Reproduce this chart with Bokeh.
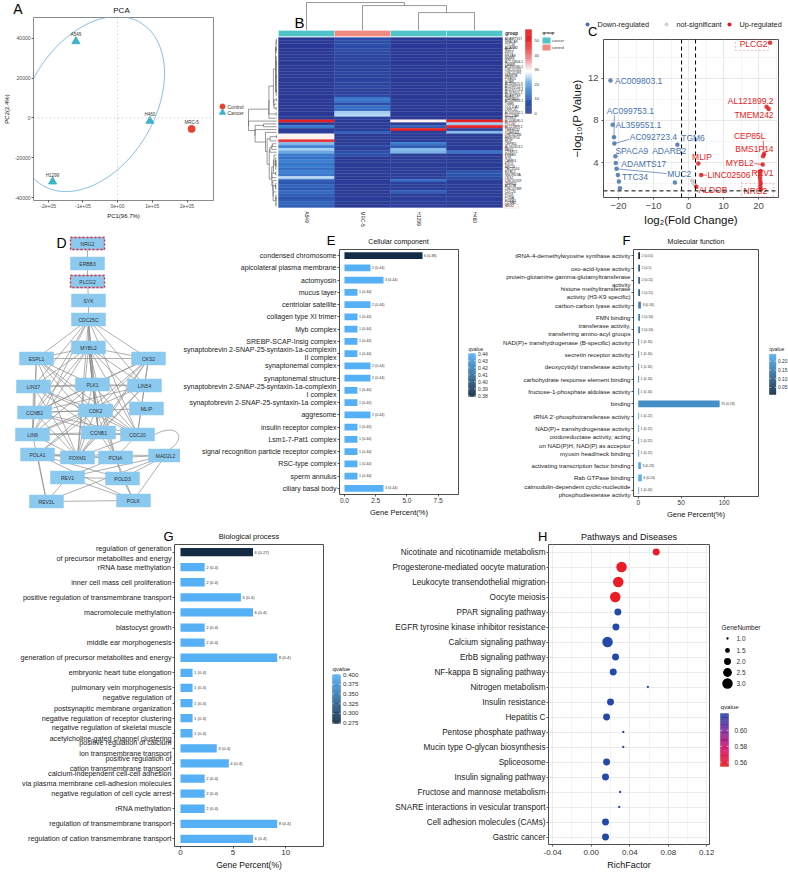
import numpy as np
from bokeh.plotting import figure
from bokeh.models import (Range1d, FactorRange, FixedTicker, Span, ColumnDataSource, NumeralTickFormatter,
                          BoxAnnotation)
from bokeh.layouts import row, column
from bokeh.core.properties import value
from bokeh.embed import file_html
from bokeh.resources import INLINE

FONT = "Liberation Sans"
DARK = "#1A1A1A"

# ============================ DATA ============================
# ---- A: PCA ----
pca_samples = ["A549", "H460", "H1299", "MRC-5"]
pca_groups = ["Cancer", "Cancer", "Cancer", "Control"]
pca_pc1 = [-1.20e5, 0.93e5, -1.87e5, 2.13e5]
pca_pc2 = [38500, -1500, -32000, -5500]
pca_ellipse = dict(cx=-0.75e5, cy=7000, sx=2.1e5, sy=44000, rho=0.35)
pca_xticks = [-200000, -100000, 0, 100000, 200000]
pca_xlabels = ["-2e+05", "-1e+05", "0e+00", "1e+05", "2e+05"]
pca_yticks = [-40000, -20000, 0, 20000, 40000]
pca_ylabels = ["-40000", "-20000", "0", "20000", "40000"]

# ---- B: heatmap ----
heat_cols = ["A549", "MRC-5", "H1299", "H460"]
heat_col_group = ["cancer", "control", "cancer", "cancer"]
heat_genes = ["ADAMTS17", "SPACA9", "TTC34", "ADARB2", "MUC2", "KRT4", "MS4A8", "MMP8", "AC124804.1", "CEMIP",
              "AC092080.1", "LINC01331", "LINC02491", "FAM87B", "PGBD5", "SOBP", "AL109615.3", "AC099753.1",
              "AC092723.4", "AL359551.1", "ADAMTS9", "ZNF385D", "AC009803.1", "TGM6", "COL11A2", "LRRC4C",
              "AC005332.1", "SLC17A8", "NTRK3",
              "AC008090.1", "PLCG2", "AL121899.2", "TMEM242", "TCERG1L", "LINC02506", "BMS1P14", "MLIP",
              "CEP85L", "AL160313.2", "REV1", "CYSRT1", "ERBB3", "SYK", "CAMK4", "EXO1", "SPC24", "TBC1D16",
              "MYBL2", "SNORD3A", "CKS2", "LINC01559", "ZNF821", "ALDOB", "LINC02389", "CDC20", "POLK", "PCNA",
              "FOXM1", "CCNB2", "NRG2"]
heat_A549 = [0.5, 0.8, 0.3, 0.6, 0.4, 0.9, 0.5, 0.3, 0.7, 0.4, 0.6, 0.5, 0.3, 0.8, 0.4, 0.5, 0.6, 0.3, 0.7, 0.5,
             0.4, 0.6, 0.5, 0.3, 0.8, 0.5, 0.4, 0.6, 0.9,
             55, 1.0, 15, 1.5, 2, 30, 30, 46, 22, 16, 24, 20, 15, 13, 16, 14, 15, 13, 16, 14, 25, 10, 8, 11, 9, 12,
             10, 8, 9, 11, 10]
heat_MRC5 = [6, 6, 7, 5, 6, 5, 3, 4, 3, 3, 4, 3, 4, 3, 3, 4, 3, 4, 3, 3, 4, 14, 14, 6, 13, 12, 24, 25, 3,
             1, 1, 1, 1, 10, 1, 1, 1, 1, 5, 2, 7, 7, 1, 1, 1, 1, 1, 1, 1, 1, 1, 1, 1, 1, 1, 1, 1, 1, 1, 1]
heat_H1299 = [0.4, 0.6, 0.5, 0.3, 0.5, 0.7, 0.4, 0.5, 0.3, 0.6, 0.5, 0.4, 0.6, 0.3, 0.5, 0.4, 0.7, 0.5, 0.3, 0.6,
              0.4, 0.5, 0.6, 0.4, 0.5, 0.3, 0.6, 0.5, 0.4,
              30, 2, 10, 55, 2, 1, 1, 1, 15, 8, 22, 21, 2, 1, 2, 1, 1, 2, 1, 2, 2, 12, 2, 2, 2, 10, 2, 2, 2, 2, 2]
heat_H460 = [0.5, 0.4, 0.6, 0.5, 0.3, 0.6, 0.5, 0.4, 0.5, 0.6, 0.3, 0.5, 0.4, 0.6, 0.5, 0.3, 0.5, 0.6, 0.4, 0.5,
             0.3, 0.6, 0.4, 0.5, 0.6, 0.4, 0.5, 0.3, 0.5,
             55, 24, 52, 3, 22, 1, 1, 1, 1, 1, 1, 14, 1, 1, 1, 1, 1, 1, 8, 8, 6, 2, 1, 2, 1, 2, 1, 2, 1, 2, 1]
heat_col_merges = [(2, 3, 0.64), (1, 4, 0.89), (0, 5, 1.0)]   # (left, right, relative height); 4,5 = new clusters
heat_cbar_ticks = [0, 10, 20, 30, 40, 50]
heat_max = 57.5

# ---- C: volcano ----
volc_gene = ["AC009803.1", "AL359551.1", "AC099753.1", "AC092723.4", "SPACA9", "ADAMTS17", "MUC2", "TTC34", "", "",
             "TGM6", "ADARB2",
             "PLCG2", "AL121899.2", "TMEM242", "CEP85L", "BMS1P14", "MYBL2", "REV1", "", "", "", "", "", "NRG2",
             "MLIP", "LINC02506", "ALDOB",
             "", "", "", ""]
volc_fc = [-22.3, -21.7, -21.3, -21.2, -20.9, -20.8, -20.6, -20.2, -19.9, -19.6, -3.2, -3.9,
           23.3, 22.3, 22.9, 21.6, 21.3, 21.2, 20.6, 20.5, 20.4, 20.5, 20.6, 20.5, 20.7,
           2.8, 3.6, 2.2,
           1.2, 1.5, 1.0, 1.7]
volc_logp = [11.8, 7.6, 6.4, 5.8, 4.6, 3.95, 3.4, 2.8, 2.2, 1.55, 5.7, 2.1,
             15.4, 9.3, 9.1, 4.8, 4.6, 3.8, 3.2, 2.9, 2.6, 2.3, 2.0, 1.75, 1.45,
             3.9, 2.8, 1.7,
             2.2, 2.05, 2.3, 1.9]
volc_legend = ["Down-regulated", "not-significant", "Up-regulated"]

# ---- D: network ----
net_nodes = ["NRG2", "ERBB3", "PLCG2", "SYK", "CDC25C", "MYBL2", "ESPL1", "CKS2", "LIN37", "PLK1", "LIN54",
             "CCNB2", "CDK2", "MLIP", "LIN9", "CCNB1", "CDC20", "POLA1", "FOXM1", "PCNA", "MAD2L2", "REV1",
             "POLD3", "REV3L", "POLK"]
net_x = [87, 87, 87, 88, 88, 88, 36, 148, 33, 92, 144, 34, 95, 146, 32, 98, 137, 37, 77, 115, 165, 67, 122, 46, 133]
net_y = [243, 263, 281, 300, 319, 347, 358, 358, 386, 384, 385, 412, 410, 408, 434, 432, 434, 454, 457, 457, 455,
         477, 478, 501, 500]
net_highlight = ["NRG2", "PLCG2"]
net_edges = [("NRG2", "ERBB3"), ("ERBB3", "PLCG2"), ("PLCG2", "SYK"), ("SYK", "CDC25C"),
             ("CDC25C", "ESPL1"), ("CDC25C", "MYBL2"), ("CDC25C", "CKS2"), ("CDC25C", "PLK1"), ("CDC25C", "CDK2"),
             ("CDC25C", "CCNB1"), ("CDC25C", "CCNB2"), ("CDC25C", "LIN9"), ("CDC25C", "FOXM1"), ("CDC25C", "CDC20"),
             ("CDC25C", "LIN37"), ("CDC25C", "LIN54"),
             ("ESPL1", "MYBL2"), ("ESPL1", "PLK1"), ("ESPL1", "CDK2"), ("ESPL1", "CCNB1"), ("ESPL1", "CCNB2"),
             ("ESPL1", "CDC20"), ("ESPL1", "FOXM1"), ("ESPL1", "CKS2"), ("ESPL1", "LIN9"),
             ("MYBL2", "CKS2"), ("MYBL2", "LIN37"), ("MYBL2", "PLK1"), ("MYBL2", "LIN54"), ("MYBL2", "CCNB2"),
             ("MYBL2", "CDK2"), ("MYBL2", "LIN9"), ("MYBL2", "CCNB1"), ("MYBL2", "CDC20"), ("MYBL2", "FOXM1"),
             ("MYBL2", "PCNA"), ("MYBL2", "MLIP"),
             ("CKS2", "PLK1"), ("CKS2", "CDK2"), ("CKS2", "CCNB1"), ("CKS2", "CCNB2"), ("CKS2", "CDC20"),
             ("CKS2", "FOXM1"), ("CKS2", "LIN54"), ("CKS2", "POLA1"),
             ("LIN37", "PLK1"), ("LIN37", "LIN54"), ("LIN37", "LIN9"), ("LIN37", "CCNB1"), ("LIN37", "FOXM1"),
             ("LIN37", "CDK2"), ("LIN37", "CDC20"),
             ("PLK1", "LIN54"), ("PLK1", "CCNB2"), ("PLK1", "CDK2"), ("PLK1", "CCNB1"), ("PLK1", "CDC20"),
             ("PLK1", "FOXM1"), ("PLK1", "LIN9"), ("PLK1", "PCNA"),
             ("LIN54", "LIN9"), ("LIN54", "CCNB1"), ("LIN54", "FOXM1"), ("LIN54", "CCNB2"), ("LIN54", "CDC20"),
             ("CCNB2", "CDK2"), ("CCNB2", "CCNB1"), ("CCNB2", "CDC20"), ("CCNB2", "FOXM1"), ("CCNB2", "LIN9"),
             ("CCNB2", "MLIP"),
             ("CDK2", "CCNB1"), ("CDK2", "CDC20"), ("CDK2", "FOXM1"), ("CDK2", "PCNA"), ("CDK2", "POLA1"),
             ("CDK2", "LIN9"),
             ("LIN9", "FOXM1"), ("LIN9", "CCNB1"), ("LIN9", "CDC20"), ("LIN9", "REV3L"),
             ("CCNB1", "CDC20"), ("CCNB1", "FOXM1"), ("CCNB1", "PCNA"), ("CDC20", "FOXM1"), ("CDC20", "PCNA"),
             ("POLA1", "FOXM1"), ("POLA1", "PCNA"), ("POLA1", "REV3L"), ("POLA1", "POLD3"), ("POLA1", "MAD2L2"),
             ("POLA1", "POLK"),
             ("FOXM1", "PCNA"), ("PCNA", "MAD2L2"), ("PCNA", "POLD3"), ("PCNA", "POLK"), ("PCNA", "REV1"),
             ("REV1", "REV3L"), ("REV1", "POLK"), ("REV1", "POLD3"), ("REV1", "MAD2L2"),
             ("REV3L", "POLK"), ("REV3L", "MAD2L2"), ("POLD3", "POLK"), ("POLD3", "MAD2L2"), ("MAD2L2", "POLK")]
net_curved_edges = [("CDC20", "MAD2L2")]

# ---- E: GO cellular component ----
cc_terms = ["condensed chromosome", "apicolateral plasma membrane", "actomyosin", "mucus layer",
            "centriolar satellite", "collagen type XI trimer", "Myb complex", "SREBP-SCAP-Insig complex",
            "synaptobrevin 2-SNAP-25-syntaxin-1a-complexin\nII complex", "synaptonemal complex",
            "synaptonemal structure", "synaptobrevin 2-SNAP-25-syntaxin-1a-complexin\nI complex",
            "synaptobrevin 2-SNAP-25-syntaxin-1a complex", "aggresome", "insulin receptor complex",
            "Lsm1-7-Pat1 complex", "signal recognition particle receptor complex", "RSC-type complex",
            "sperm annulus", "ciliary basal body"]
cc_count = [6, 2, 3, 1, 2, 1, 1, 1, 1, 2, 2, 1, 1, 2, 1, 1, 1, 1, 1, 3]
cc_q = [0.38, 0.44, 0.44, 0.44, 0.44, 0.44, 0.44, 0.44, 0.44, 0.44, 0.44, 0.44, 0.44, 0.44, 0.44, 0.44, 0.44,
        0.44, 0.44, 0.44]
cc_total = 96
cc_qrange = (0.379, 0.4405)
cc_qticks = [0.38, 0.39, 0.40, 0.41, 0.42, 0.43, 0.44]

# ---- F: GO molecular function ----
mf_terms = ["tRNA-4-demethylwyosine synthase activity", "oxo-acid-lyase activity",
            "protein-glutamine gamma-glutamyltransferase\nactivity",
            "histone methyltransferase\nactivity (H3-K9 specific)", "carbon-carbon lyase activity", "FMN binding",
            "transferase activity,\ntransferring amino-acyl groups",
            "NAD(P)+ transhydrogenase (B-specific) activity", "secretin receptor activity",
            "deoxycytidyl transferase activity", "carbohydrate response element binding",
            "fructose-1-phosphate aldolase activity", "binding", "tRNA 2'-phosphotransferase activity",
            "NAD(P)+ transhydrogenase activity",
            "oxidoreductase activity, acting\non NAD(P)H, NAD(P) as acceptor", "myosin head/neck binding",
            "activating transcription factor binding", "Rab GTPase binding",
            "calmodulin-dependent cyclic-nucleotide\nphosphodiesterase activity"]
mf_count = [2, 2, 2, 2, 3, 2, 2, 1, 1, 1, 1, 1, 91, 1, 1, 1, 1, 3, 4, 1]
mf_q = [0.01, 0.1, 0.11, 0.11, 0.16, 0.16, 0.16, 0.16, 0.16, 0.16, 0.16, 0.16, 0.18, 0.22, 0.22, 0.22, 0.22,
        0.23, 0.24, 0.24]
mf_total = 96
mf_qrange = (0.0093, 0.2405)
mf_qticks = [0.05, 0.10, 0.15, 0.20]

# ---- G: GO biological process ----
bp_terms = ["regulation of generation\nof precursor metabolites and energy", "rRNA base methylation",
            "inner cell mass cell proliferation", "positive regulation of transmembrane transport",
            "macromolecule methylation", "blastocyst growth", "middle ear morphogenesis",
            "generation of precursor metabolites and energy", "embryonic heart tube elongation",
            "pulmonary vein morphogenesis", "negative regulation of\npostsynaptic membrane organization",
            "negative regulation of receptor clustering",
            "negative regulation of skeletal muscle\nacetylcholine-gated channel clustering",
            "positive regulation of calcium\nion transmembrane transport",
            "positive regulation of\ncation transmembrane transport",
            "calcium-independent cell-cell adhesion\nvia plasma membrane cell-adhesion molecules",
            "negative regulation of cell cycle arrest", "rRNA methylation",
            "regulation of transmembrane transport", "regulation of cation transmembrane transport"]
bp_count = [6, 2, 2, 5, 6, 2, 2, 8, 1, 1, 1, 1, 1, 3, 4, 2, 2, 2, 8, 6]
bp_q = [0.27, 0.4, 0.4, 0.4, 0.4, 0.4, 0.4, 0.4, 0.4, 0.4, 0.4, 0.4, 0.4, 0.4, 0.4, 0.4, 0.4, 0.4, 0.4, 0.4]
bp_total = 87
bp_qrange = (0.2735, 0.401)
bp_qticks = [0.275, 0.300, 0.325, 0.350, 0.375, 0.400]

# ---- H: KEGG ----
kegg_terms = ["Nicotinate and nicotinamide metabolism", "Progesterone-mediated oocyte maturation",
              "Leukocyte transendothelial migration", "Oocyte meiosis", "PPAR signaling pathway",
              "EGFR tyrosine kinase inhibitor resistance", "Calcium signaling pathway", "ErbB signaling pathway",
              "NF-kappa B signaling pathway", "Nitrogen metabolism", "Insulin resistance", "Hepatitis C",
              "Pentose phosphate pathway", "Mucin type O-glycan biosynthesis", "Spliceosome",
              "Insulin signaling pathway", "Fructose and mannose metabolism",
              "SNARE interactions in vesicular transport", "Cell adhesion molecules (CAMs)", "Gastric cancer"]
kegg_rich = [0.0674, 0.0314, 0.0280, 0.0249, 0.0276, 0.0256, 0.0169, 0.0252, 0.0228, 0.0587, 0.0200, 0.0159,
             0.0332, 0.0332, 0.0159, 0.0148, 0.0300, 0.0290, 0.0148, 0.0148]
kegg_count = [2, 3, 3, 3, 2, 2, 3, 2, 2, 1, 2, 2, 1, 1, 2, 2, 1, 1, 2, 2]
kegg_q = [0.556, 0.555, 0.555, 0.555, 0.622, 0.622, 0.622, 0.622, 0.622, 0.621, 0.622, 0.622, 0.621, 0.621,
          0.622, 0.622, 0.621, 0.621, 0.622, 0.622]
kegg_qrange = (0.5546, 0.6216)
kegg_qticks = [0.56, 0.58, 0.60]
kegg_size_breaks = [1.0, 1.5, 2.0, 2.5, 3.0]

# ============================ HELPERS ============================
def hex2rgb(h):
    h = h.lstrip("#")
    return tuple(int(h[i:i + 2], 16) for i in (0, 2, 4))


def rgb2hex(c):
    return "#%02x%02x%02x" % tuple(int(round(max(0, min(255, v)))) for v in c)


def lerp_color(stops, t):
    if t <= stops[0][0]:
        return stops[0][1]
    if t >= stops[-1][0]:
        return stops[-1][1]
    for (p0, c0), (p1, c1) in zip(stops[:-1], stops[1:]):
        if p0 <= t <= p1:
            f = (t - p0) / (p1 - p0) if p1 > p0 else 0
            a, b = hex2rgb(c0), hex2rgb(c1)
            return rgb2hex([a[k] + (b[k] - a[k]) * f for k in range(3)])
    return stops[-1][1]


BLUE_STOPS = [(0.0, "#132B43"), (1.0, "#56B1F7")]
KEGG_STOPS = [(0.0, "#EE1B24"), (0.35, "#D0176F"), (0.7, "#7A2DA0"), (1.0, "#2449A8")]
HEAT_STOPS = [(0, "#2B3894"), (8, "#2D55AE"), (16, "#3B80D4"), (23, "#93C4EE"), (29, "#FFFFFF"),
              (37, "#F59A9A"), (45, "#E8383A"), (57.5, "#E31A1C")]


def qcolor(q, rng, stops=BLUE_STOPS):
    return lerp_color(stops, (q - rng[0]) / (rng[1] - rng[0]))


def gene_size(n, nmin=1.0, nmax=3.0):
    s = 1 + 5 * (np.sqrt(n) - np.sqrt(nmin)) / (np.sqrt(nmax) - np.sqrt(nmin))
    return 0.66 + 1.64 * s


def blank_fig(w, h, xr=None, yr=None):
    p = figure(width=w, height=h,
               x_range=xr if xr is not None else Range1d(0, w),
               y_range=yr if yr is not None else Range1d(h, 0),
               x_axis_type=None, y_axis_type=None, output_backend="svg", toolbar_location=None,
               min_border_left=0, min_border_right=0, min_border_top=0, min_border_bottom=0,
               frame_align=False)
    p.outline_line_color = None
    p.background_fill_color = "white"
    p.border_fill_color = "white"
    return p


def axes_fig(w, h, xr, yr, left, right, top, bottom):
    p = figure(width=w, height=h, x_range=xr, y_range=yr, output_backend="svg", toolbar_location=None,
               min_border_left=left, min_border_right=right, min_border_top=top, min_border_bottom=bottom,
               frame_align=False)
    p.background_fill_color = "white"
    p.border_fill_color = "white"
    p.outline_line_color = "#4D4D4D"
    p.outline_line_width = 1
    return p


def style_axes(p, tick_size, label_size, tick_color="#333333"):
    for ax in p.axis:
        ax.axis_line_color = None
        ax.major_tick_line_color = "#333333"
        ax.major_tick_line_width = 0.8
        ax.major_tick_out = 2
        ax.major_tick_in = 0
        ax.minor_tick_line_color = None
        ax.major_label_text_font = FONT
        ax.major_label_text_font_size = tick_size
        ax.major_label_text_color = tick_color
        ax.axis_label_text_font = FONT
        ax.axis_label_text_font_size = label_size
        ax.axis_label_text_font_style = "normal"
        ax.axis_label_text_color = "#111111"
        ax.axis_label_standoff = 2
        ax.major_label_standoff = 1


def add_text(p, xs, ys, texts, size, color=DARK, align="left", baseline="middle", angle=0.0,
             style="normal", xo=0, yo=0):
    data = dict(x=list(xs), y=list(ys), t=list(texts))
    kw = {}
    if isinstance(color, (list, tuple)):
        data["c"] = list(color)
        kw["text_color"] = "c"
    else:
        kw["text_color"] = color
    src = ColumnDataSource(data)
    p.text(x="x", y="y", text="t", source=src, text_font=value(FONT), text_font_size=value(size),
           text_align=align, text_baseline=baseline, angle=angle, text_font_style=style,
           x_offset=xo, y_offset=yo, **kw)


def head_strip(w, h, letter_x, letter_txt, title_x=None, title_txt=None, title_size="7px", title_y=None,
               letter_size="13px"):
    p = blank_fig(w, h)
    add_text(p, [letter_x], [h / 2], [letter_txt], letter_size, color="#000000", align="right", baseline="middle")
    if title_txt:
        add_text(p, [title_x], [title_y if title_y is not None else h / 2 + 1], [title_txt], title_size,
                 color="#111111", align="center", baseline="middle")
    return p


def grad_legend(p, x0, x1, ytop, ybot, rng, stops, ticks, labels, lab_x, font, title, title_y, title_size):
    n = 60
    edges = np.linspace(rng[0], rng[1], n + 1)

    def ypos(v):
        return ybot - (v - rng[0]) / (rng[1] - rng[0]) * (ybot - ytop)

    mids = (edges[:-1] + edges[1:]) / 2
    cols = [qcolor(m, rng, stops) for m in mids]
    p.quad(left=x0, right=x1, bottom=[ypos(v) for v in edges[:-1]], top=[ypos(v) for v in edges[1:]],
           fill_color=cols, line_color=cols, line_width=0.3)
    ty = [ypos(t) for t in ticks]
    bw = x1 - x0
    p.segment(x0=[x0] * len(ty), x1=[x0 + bw * 0.2] * len(ty), y0=ty, y1=ty, line_color="white", line_width=0.6)
    p.segment(x0=[x1 - bw * 0.2] * len(ty), x1=[x1] * len(ty), y0=ty, y1=ty, line_color="white", line_width=0.6)
    add_text(p, [lab_x] * len(ty), ty, labels, font, color="#333333")
    add_text(p, [x0], [title_y], [title], title_size, color="#222222", baseline="bottom")


# ============================ A: PCA ============================
A_top = head_strip(246, 16, 22, "A", 121, "PCA", "8px", title_y=10, letter_size="14px")
pA = axes_fig(214, 216, Range1d(-2.42e5, 2.76e5), Range1d(-41500, 50500), 29, 1, 1, 32)
style_axes(pA, "5px", "6px", "#4D4D4D")
pA.grid.visible = False
pA.outline_line_color = "#8A8A8A"
pA.xaxis.ticker = FixedTicker(ticks=pca_xticks)
pA.xaxis.major_label_overrides = dict(zip(pca_xticks, pca_xlabels))
pA.yaxis.ticker = FixedTicker(ticks=pca_yticks)
pA.yaxis.major_label_overrides = dict(zip(pca_yticks, pca_ylabels))
pA.xaxis.axis_label = "PC1(96.7%)"
pA.yaxis.axis_label = "PC2(2.4%)"
pA.add_layout(Span(location=0, dimension="height", line_color="#C8C8C8", line_dash="2 2", line_width=0.7))
pA.add_layout(Span(location=0, dimension="width", line_color="#C8C8C8", line_dash="2 2", line_width=0.7))
tt = np.linspace(0, 2 * np.pi, 240)
e = pca_ellipse
ell_x = e["cx"] + e["sx"] * np.cos(tt)
ell_y = e["cy"] + e["sy"] * (e["rho"] * np.cos(tt) + np.sqrt(1 - e["rho"] ** 2) * np.sin(tt))
pA.line(ell_x, ell_y, line_color="#72B7E3", line_width=0.9)
PCA_STYLE = {"Control": ("circle", 7, "#E8412C"), "Cancer": ("triangle", 8, "#3DB4CC")}
for g in ["Control", "Cancer"]:
    ids = [i for i, gg in enumerate(pca_groups) if gg == g]
    mk, sz, col = PCA_STYLE[g]
    pA.scatter([pca_pc1[i] for i in ids], [pca_pc2[i] for i in ids], marker=mk, size=sz,
               fill_color=col, line_color=col)
add_text(pA, pca_pc1, pca_pc2, pca_samples, "4.5px", color="#333333", align="center", baseline="bottom", yo=-4)
A_leg = blank_fig(32, 216)
for k, g in enumerate(["Control", "Cancer"]):
    mk, sz, col = PCA_STYLE[g]
    A_leg.scatter([8], [90 + 6 * k], marker=mk, size=sz - 2, fill_color=col, line_color=col)
    add_text(A_leg, [13], [90 + 6 * k], [g], "5px", color="#333333")

# ============================ B: heatmap ============================
BX0, CW, BY0, RH = 32.0, 56.0, 37.0, 170.0 / 60.0
pB = blank_fig(320, 232, xr=Range1d(-BX0 / CW, (320 - BX0) / CW), yr=Range1d((232 - BY0) / RH, -BY0 / RH))
M = np.array([heat_A549, heat_MRC5, heat_H1299, heat_H460]).T
NR, NC = M.shape
hx, hy, hc = [], [], []
for i in range(NR):
    for j in range(NC):
        hx.append(j + 0.5)
        hy.append(i + 0.5)
        hc.append(lerp_color(HEAT_STOPS, M[i, j]))
pB.rect(x=hx, y=hy, width=1.0, height=1.0, fill_color=hc, line_color=hc, line_width=0.3)


# row dendrogram: order-preserving average-linkage clustering of rows
def ordered_linkage(X):
    clusters = [[i] for i in range(len(X))]
    pos = [i + 0.5 for i in range(len(X))]
    hts = [0.0] * len(X)
    segs = []
    while len(clusters) > 1:
        best = None
        for k in range(len(clusters) - 1):
            a, b = clusters[k], clusters[k + 1]
            d = np.mean([np.linalg.norm(X[i] - X[j]) for i in a for j in b])
            if best is None or d < best[0]:
                best = (d, k)
        d, k = best
        h = max(d, hts[k], hts[k + 1])
        segs.append((pos[k], hts[k], pos[k + 1], hts[k + 1], h))
        newpos = (pos[k] + pos[k + 1]) / 2
        clusters[k:k + 2] = [clusters[k] + clusters[k + 1]]
        pos[k:k + 2] = [newpos]
        hts[k:k + 2] = [h]
    return segs


rsegs = ordered_linkage(M)
hmax = max(s[4] for s in rsegs)
gap = 2.0 / CW
dw = 28.0 / CW
x0s, x1s, y0s, y1s = [], [], [], []
for pa, ha, pb, hb, h in rsegs:
    xa, xb, xh = -gap - dw * ha / hmax, -gap - dw * hb / hmax, -gap - dw * h / hmax
    x0s += [xa, xb, xh]
    x1s += [xh, xh, xh]
    y0s += [pa, pb, pa]
    y1s += [pa, pb, pb]
pB.segment(x0=x0s, y0=y0s, x1=x1s, y1=y1s, line_color="#555555", line_width=0.6)

# column dendrogram
leaf_y = (30 - BY0) / RH
top_y = (2 - BY0) / RH
cpos = {j: j + 0.5 for j in range(NC)}
chts = {j: 0.0 for j in range(NC)}
cx0, cx1, cy0, cy1 = [], [], [], []
for n, (a, b, h) in enumerate(heat_col_merges):
    ya = leaf_y + (top_y - leaf_y) * chts[a]
    yb = leaf_y + (top_y - leaf_y) * chts[b]
    yh = leaf_y + (top_y - leaf_y) * h
    cx0 += [cpos[a], cpos[b], cpos[a]]
    cx1 += [cpos[a], cpos[b], cpos[b]]
    cy0 += [ya, yb, yh]
    cy1 += [yh, yh, yh]
    cpos[NC + n] = (cpos[a] + cpos[b]) / 2
    chts[NC + n] = h
pB.segment(x0=cx0, y0=cy0, x1=cx1, y1=cy1, line_color="#555555", line_width=0.6)

GROUP_COL = {"cancer": "#4FC3C7", "control": "#F08A80"}
gb_top, gb_bot = (30 - BY0) / RH, (36 - BY0) / RH
pB.quad(left=[j for j in range(NC)], right=[j + 1 for j in range(NC)], top=gb_top, bottom=gb_bot,
        fill_color=[GROUP_COL[g] for g in heat_col_group], line_color="white", line_width=0.3)
add_text(pB, [NC + 0.05], [(gb_top + gb_bot) / 2], ["group"], "4.5px", style="bold")
add_text(pB, [NC + 0.04] * NR, [i + 0.5 for i in range(NR)], heat_genes, "3.3px", color="#222222")
add_text(pB, [j + 0.5 for j in range(NC)], [(211 - BY0) / RH] * NC, heat_cols, "4.8px", color="#222222",
         angle=-np.pi / 2)
for g in ["PLCG2", "NRG2"]:
    i = heat_genes.index(g)
    pB.add_layout(BoxAnnotation(left=NC + 0.0, right=NC + 0.28, top=i - 0.15, bottom=i + 1.15,
                                fill_alpha=0, line_color="#E8383A", line_width=0.6))
cb_x0, cb_x1 = (525 - 278) / CW, (531 - 278) / CW


def hb_y(v):
    return ((113 - 1.46 * v) - BY0) / RH


vv = np.linspace(0, heat_max, 81)
vm = (vv[:-1] + vv[1:]) / 2
vcol = [lerp_color(HEAT_STOPS, v) for v in vm]
pB.quad(left=cb_x0, right=cb_x1, top=[hb_y(v) for v in vv[1:]], bottom=[hb_y(v) for v in vv[:-1]],
        fill_color=vcol, line_color=vcol, line_width=0.3)
add_text(pB, [(534 - 278) / CW] * len(heat_cbar_ticks), [hb_y(v) for v in heat_cbar_ticks],
         [str(v) for v in heat_cbar_ticks], "4px", color="#333333")
lg_x = (542 - 278) / CW
add_text(pB, [lg_x], [(32 - BY0) / RH], ["group"], "4.2px", style="bold")
for k, g in enumerate(["cancer", "control"]):
    ytop = (37 + 7 * k - BY0) / RH
    pB.quad(left=lg_x, right=lg_x + 8 / CW, top=ytop, bottom=ytop + 6 / RH, fill_color=GROUP_COL[g],
            line_color=None)
    add_text(pB, [lg_x + 9.5 / CW], [ytop + 3 / RH], [g], "4px", color="#333333")
add_text(pB, [(53 - BX0) / CW], [(22 - BY0) / RH], ["B"], "15px", color="#000000", align="center")

# ============================ C: volcano ============================
VCOL = {"down": "#4772AE", "ns": "#CFCFCF", "up": "#E41A1C"}
C_top = blank_fig(222, 38)
for k, (g, xd, xt) in enumerate(zip(["down", "ns", "up"], [21, 100, 163], [31, 110, 173])):
    C_top.scatter([xd], [24], size=4, fill_color=VCOL[g], line_color=None)
    add_text(C_top, [xt], [24], [volc_legend[k]], "7.3px", color="#222222")
add_text(C_top, [31], [30.5], ["C"], "13px", color="#000000", align="right", baseline="middle")

pC = axes_fig(222, 194, Range1d(-24.3, 25.7), Range1d(0.67, 15.71), 37, 10, 1, 35)
style_axes(pC, "9.5px", "11.5px", "#4D4D4D")
pC.xaxis.ticker = FixedTicker(ticks=[-20, -10, 0, 10, 20], minor_ticks=[-25, -15, -5, 5, 15, 25])
pC.yaxis.ticker = FixedTicker(ticks=[4, 8, 12], minor_ticks=[2, 6, 10, 14])
for g in (pC.xgrid, pC.ygrid):
    g.grid_line_color = "#E3E3E3"
    g.grid_line_width = 0.8
    g.minor_grid_line_color = "#EFEFEF"
    g.minor_grid_line_width = 0.6
pC.xaxis.axis_label = "log\u2082(Fold Change)"
pC.yaxis.axis_label = "\u2212log\u2081\u2080(P Value)"
fc = np.array(volc_fc)
lp = np.array(volc_logp)
P_CUT = -np.log10(0.05)
FC_CUT = 2.0
grp = np.where((lp > P_CUT) & (fc > FC_CUT), "up", np.where((lp > P_CUT) & (fc < -FC_CUT), "down", "ns"))
for g in ["down", "ns", "up"]:
    m = grp == g
    pC.scatter(fc[m], lp[m], size=4.5, fill_color=VCOL[g], line_color=None, fill_alpha=0.85)
for loc in (-FC_CUT, FC_CUT):
    pC.add_layout(Span(location=loc, dimension="height", line_color="black", line_dash="4 3", line_width=1))
pC.add_layout(Span(location=P_CUT, dimension="width", line_color="black", line_dash="4 3", line_width=1))
volc_label_pos = {
    "AC009803.1": (-21.0, 11.8, "left"), "AC099753.1": (-23.4, 8.95, "left"), "AL359551.1": (-20.9, 7.6, "left"),
    "AC092723.4": (-16.8, 6.4, "left"), "TGM6": (-2.1, 6.35, "left"), "SPACA9": (-20.9, 5.14, "left"),
    "ADARB2": (-10.4, 5.05, "left"), "ADAMTS17": (-19.2, 3.87, "left"), "MUC2": (-6.1, 2.92, "left"),
    "TTC34": (-19.0, 2.6, "left"), "PLCG2": (14.6, 15.3, "left"), "AL121899.2": (24.3, 9.84, "right"),
    "TMEM242": (24.3, 8.48, "right"), "CEP85L": (22.0, 6.5, "right"), "BMS1P14": (24.3, 5.24, "right"),
    "MYBL2": (18.6, 3.97, "right"), "REV1": (24.3, 2.98, "right"), "MLIP": (1.0, 4.57, "left"),
    "LINC02506": (5.4, 2.83, "left"), "ALDOB": (2.9, 1.4, "left"), "NRG2": (15.7, 1.33, "left"),
}
volc_seg_end = {"AC099753.1": (-21.2, 8.5), "AC092723.4": (-17.0, 6.2), "MUC2": (-6.3, 2.95),
                "CEP85L": (21.3, 6.1), "MYBL2": (18.8, 3.9), "LINC02506": (5.2, 2.8), "ALDOB": (2.8, 1.5),
                "REV1": (18.8, 3.0)}
volc_boxes = {"PLCG2": (13.4, 22.9, 14.67, 15.70), "NRG2": (15.1, 24.3, 0.70, 2.03)}
lx, ly, lt, lc, la = [], [], [], [], []
sx0, sy0, sx1, sy1, sc = [], [], [], [], []
for gname, (px, py, al) in volc_label_pos.items():
    idx = volc_gene.index(gname)
    col = VCOL[grp[idx]] if grp[idx] != "ns" else "#888888"
    lx.append(px); ly.append(py); lt.append(gname); lc.append(col); la.append(al)
    if gname in volc_seg_end:
        ex_, ey_ = volc_seg_end[gname]
        sx0.append(fc[idx]); sy0.append(lp[idx]); sx1.append(ex_); sy1.append(ey_); sc.append(col)
pC.segment(x0=sx0, y0=sy0, x1=sx1, y1=sy1, line_color=sc, line_width=0.7)
for al in ("left", "right"):
    ids = [k for k in range(len(lt)) if la[k] == al]
    add_text(pC, [lx[k] for k in ids], [ly[k] for k in ids], [lt[k] for k in ids], "8.5px",
             color=[lc[k] for k in ids], align=al)
for gname, (l, r, b, t) in volc_boxes.items():
    pC.add_layout(BoxAnnotation(left=l, right=r, bottom=b, top=t, fill_alpha=0, line_color="#E41A1C",
                                line_dash="2 2", line_width=1))

# ============================ D: network ============================
pD = blank_fig(180, 296, xr=Range1d(0, 180), yr=Range1d(528, 232))
npos = {n: (x, y) for n, x, y in zip(net_nodes, net_x, net_y)}
pD.segment(x0=[npos[a][0] for a, b in net_edges], y0=[npos[a][1] for a, b in net_edges],
           x1=[npos[b][0] for a, b in net_edges], y1=[npos[b][1] for a, b in net_edges],
           line_color="#8C8C8C", line_width=0.7)
for a, b in net_curved_edges:
    (xa, ya), (xb, yb) = npos[a], npos[b]
    pD.bezier(x0=[xa + 17], y0=[ya], x1=[xb + 4], y1=[yb - 6], cx0=[xa + 40], cy0=[ya - 12],
              cx1=[xb + 22], cy1=[yb - 18], line_color="#8C8C8C", line_width=0.7)
NODE_W, NODE_H = 34, 13
pD.rect(x=net_x, y=net_y, width=NODE_W, height=NODE_H, fill_color="#8CC9EE", line_color="#8CC9EE",
        line_width=0.5)
hl = [n in net_highlight for n in net_nodes]
pD.rect(x=[x for x, h in zip(net_x, hl) if h], y=[y for y, h in zip(net_y, hl) if h], width=NODE_W,
        height=NODE_H - 1, fill_alpha=0, line_color="#E8262A", line_dash="2 2", line_width=1.4)
add_text(pD, net_x, net_y, net_nodes, "5px", color="#333333", align="center")
add_text(pD, [61], [242], ["D"], "14px", color="#000000", align="center")


# ============================ bar chart helper (E, F, G) ============================
def go_bar(w, h, xr, terms, counts, qs, total, qrng, left, right, top, bottom, tick_font, lab_font,
           cat_font, val_font, ticks, fmt):
    pct = [c / total * 100 for c in counts]
    p = axes_fig(w, h, xr, FactorRange(factors=terms[::-1]), left, right, top, bottom)
    style_axes(p, tick_font, lab_font, "#333333")
    p.yaxis.major_label_text_font_size = cat_font
    p.yaxis.major_label_text_color = "#1A1A1A"
    p.grid.visible = False
    p.xaxis.ticker = FixedTicker(ticks=ticks)
    p.xaxis.formatter = NumeralTickFormatter(format=fmt)
    p.xaxis.axis_label = "Gene Percent(%)"
    cols = [qcolor(q, qrng) for q in qs]
    src = ColumnDataSource(dict(y=terms, r=pct, c=cols, lab=["%d (%g)" % (c, q) for c, q in zip(counts, qs)]))
    p.hbar(y="y", left=0, right="r", height=0.55, fill_color="c", line_color=None, source=src)
    p.text(x="r", y="y", text="lab", source=src, x_offset=1.5, text_font=value(FONT),
           text_font_size=value(val_font), text_baseline="middle", text_align="left", text_color="#333333")
    return p


E_top = head_strip(284, 16, 155, "E", 218, "Cellular component", "7px", title_y=9)
pE = go_bar(284, 280, Range1d(-0.397, 9.13), cc_terms, cc_count, cc_q, cc_total, cc_qrange, 158, 6, 1, 34,
            "6.5px", "7.5px", "7px", "3.6px", [0, 2.5, 5, 7.5], "0.0")
F_top = head_strip(268, 16, 138, "F", 203.5, "Molecular function", "7px", title_y=9)
pF = go_bar(268, 280, Range1d(-5.5, 140), mf_terms, mf_count, mf_q, mf_total, mf_qrange, 141, 2, 1, 32,
            "6.5px", "7.5px", "6.1px", "3.4px", [0, 50, 100], "0")
G_top = head_strip(328, 15, 173, "G", 248.5, "Biological process", "7.5px", title_y=8)
pG = go_bar(328, 329, Range1d(-0.57, 13.6), bp_terms, bp_count, bp_q, bp_total, bp_qrange, 174, 5, 1, 25,
            "8px", "8.5px", "7.2px", "4.2px", [0, 5, 10], "0")

# legends for E, F, G
lE = blank_fig(28, 296)
grad_legend(lE, 4, 11, 121, 164, cc_qrange, BLUE_STOPS, cc_qticks, ["%.2f" % t for t in cc_qticks],
            13.5, "5px", "qvalue", 119, "5px")
lF = blank_fig(28, 296)
grad_legend(lF, 9, 15.5, 121.7, 162, mf_qrange, BLUE_STOPS, mf_qticks, ["%.2f" % t for t in mf_qticks],
            17.5, "4.8px", "qvalue", 119.5, "5px")
lG = blank_fig(44, 344)
grad_legend(lG, 4, 12, 146, 195, bp_qrange, BLUE_STOPS, bp_qticks, ["%.3f" % t for t in bp_qticks],
            14.5, "6.2px", "qvalue", 143.5, "6px")

# ============================ H: KEGG dot plot ============================
H_top = head_strip(342, 15, 175, "H", 256.5, "Pathways and Diseases", "9px", title_y=8)
pH = axes_fig(342, 329, Range1d(-0.0443, 0.1226), FactorRange(factors=kegg_terms[::-1]), 176, 5, 1, 25)
style_axes(pH, "8px", "9px", "#333333")
pH.yaxis.major_label_text_font_size = "8.2px"
pH.yaxis.major_label_text_color = "#1A1A1A"
pH.xaxis.ticker = FixedTicker(ticks=[-0.04, 0, 0.04, 0.08, 0.12], minor_ticks=[-0.02, 0.02, 0.06, 0.10])
pH.xaxis.formatter = NumeralTickFormatter(format="0.00")
pH.xaxis.axis_label = "RichFactor"
for g in (pH.xgrid, pH.ygrid):
    g.grid_line_color = "#E6E6E6"
    g.grid_line_width = 0.8
pH.xgrid.minor_grid_line_color = "#EEEEEE"
pH.xgrid.minor_grid_line_width = 0.6
srcH = ColumnDataSource(dict(x=kegg_rich, y=kegg_terms, s=[gene_size(c) for c in kegg_count],
                             c=[qcolor(q, kegg_qrange, KEGG_STOPS) for q in kegg_q]))
pH.scatter(x="x", y="y", size="s", fill_color="c", line_color=None, source=srcH)

lH = blank_fig(74, 344)
add_text(lH, [7], [99], ["GeneNumber"], "6.5px", color="#222222")
gy = [110, 122, 133, 144, 155]
lH.scatter(x=[13] * len(kegg_size_breaks), y=gy, size=[gene_size(v) for v in kegg_size_breaks],
           fill_color="black", line_color=None)
add_text(lH, [22] * len(gy), gy, ["%.1f" % v for v in kegg_size_breaks], "6.5px", color="#333333")
grad_legend(lH, 6, 14, 185, 238, kegg_qrange, KEGG_STOPS, kegg_qticks, ["%.2f" % t for t in kegg_qticks],
            20, "6.5px", "qvalue", 181, "6.2px")

# ============================ LAYOUT ============================
row1 = row(column(A_top, row(pA, A_leg)), pB, column(C_top, pC))
row2 = row(pD, column(E_top, pE), lE, column(F_top, pF), lF)
row3 = row(column(G_top, pG), lG, column(H_top, pH), lH)
layout = column(row1, row2, row3)
open("out.html", "w").write(file_html(layout, INLINE))
